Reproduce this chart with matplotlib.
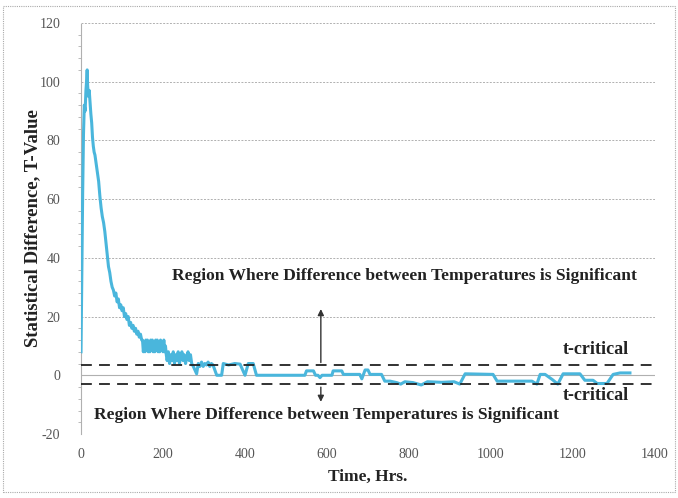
import numpy as np
import matplotlib
matplotlib.use("Agg")
import matplotlib.pyplot as plt
from matplotlib.patches import Rectangle

_LINE = "#4ab6dc"
_GRID = "#b0b0b0"
_TXT = "#222222"
_TICK = "#555555"

plt.rcParams["axes.unicode_minus"] = False

# time (hrs) and t-value
hours = [0, 2, 4, 6, 8, 10, 12, 14, 15, 16, 18, 20, 22, 24, 26, 28, 30, 32, 34, 36,
         38, 40, 43, 46, 49, 52, 55, 58, 61, 64, 67, 70, 73, 76, 79, 82, 85, 88, 91, 94,
         97, 100, 103, 106, 109, 112, 115, 118, 121, 124, 127, 130, 133, 136, 139, 142, 145, 148,
         150, 152, 154, 156, 158, 160, 162, 164, 166, 168, 170, 172, 174, 176, 178, 180, 182, 184,
         186, 188, 190, 192, 194, 196, 198, 200, 202, 204, 206, 208,
         210, 213, 216, 219, 222, 225, 228, 231, 234, 237, 240, 243, 246, 249, 252, 255, 258,
         261, 264, 267, 270, 274,
         282, 286, 290, 294, 298, 302, 306, 310, 314, 318, 322, 331, 343, 347, 360, 375, 388,
         400, 408, 420, 428, 441, 546, 550, 567, 572, 578, 583, 588, 612, 615, 636, 640, 680,
         685, 693, 700, 705, 733, 741, 754, 770, 780, 790, 810, 830, 845, 880, 910, 924, 937,
         1005, 1015, 1100, 1112, 1120, 1132, 1150, 1163, 1176, 1217, 1229, 1249, 1259, 1283,
         1298, 1315, 1339]
t_value = [8, 35, 62, 82, 92, 90, 97, 101, 104, 99, 95, 97, 93, 89, 86, 81, 78, 76, 75, 73,
           71, 69, 66, 61, 57, 54, 52, 49, 45, 41, 37, 35, 32, 30, 29, 27, 28, 25, 26, 23,
           24, 22, 23, 20, 21, 19, 20, 17, 18, 16, 17, 15, 16, 14, 15, 13, 14, 12,
           12, 8, 11, 8, 12, 9, 12, 8, 11, 8, 12, 9, 12, 8, 11, 8, 12, 9,
           12, 8, 11, 8, 12, 9, 11, 8, 12, 8, 10, 7,
           5, 8, 4, 7, 5, 8, 4, 7, 5, 8, 4, 6, 8, 5, 7, 4, 6,
           8, 5, 7, 4, 3,
           0.5, 4, 3, 4.5, 3, 4, 3.5, 4.5, 3, 4, 3.5, 0, 0, 4, 3.5, 4, 3.8,
           0, 4, 4, 0, 0, 0, 1.5, 1.5, 0, 0, -0.8, 0, 0, 1.5, 1.5, 0.3, 0.3,
           -1.2, 1.8, 1.8, 0.3, 0.3, -2, -2, -2.5, -3, -2.2, -2.5, -3.3, -2.2, -2.4, -2.2, -3, 0.5,
           0.3, -2, -2, -3, 0.3, 0.3, -1.5, -3, 0.5, 0.5, -1.7, -1.7, -2.8, -2.8,
           0.3, 0.8, 0.8]

t_crit_upper = 3.4
t_crit_lower = -3.1
y_ticks = [-20, 0, 20, 40, 60, 80, 100, 120]
x_ticks = [0, 200, 400, 600, 800, 1000, 1200, 1400]
region_label = "Region Where Difference between Temperatures is Significant"

fig = plt.figure(figsize=(6.78, 4.98), dpi=100)
ax = fig.add_axes([0.1195, 0.1285, 0.8465, 0.8255])

for y in y_ticks:
    if y != 0:
        ax.axhline(y, color=_GRID, lw=0.7, ls=(0, (2, 1.5)), zorder=0)
ax.axhline(0, color=_GRID, lw=0.8, zorder=0)

ax.plot(hours, t_value, color=_LINE, lw=2.2, zorder=3)
ax.axhline(t_crit_upper, color="#222222", lw=1.3, ls=(0, (6, 4)), zorder=4)
ax.axhline(t_crit_lower, color="#222222", lw=1.3, ls=(0, (6, 4)), zorder=4)

ax.set_xlim(0, 1400)
ax.set_ylim(-20, 120)
ax.set_xticks(x_ticks)
ax.set_yticks(y_ticks)
ax.set_yticks(np.arange(-20, 121, 4), minor=True)

serif = ["Liberation Serif", "DejaVu Serif"]
for lab in ax.get_xticklabels() + ax.get_yticklabels():
    lab.set_family(serif)
    lab.set_fontsize(10)
    lab.set_color(_TICK)
ax.tick_params(axis="x", length=0, pad=10)
ax.tick_params(axis="y", which="major", length=0, pad=15)
ax.tick_params(axis="y", which="minor", length=2, color=_GRID)

for sp in ["top", "right", "bottom"]:
    ax.spines[sp].set_visible(False)
ax.spines["left"].set_color(_GRID)
ax.spines["left"].set_linestyle((0, (1, 1)))
ax.spines["left"].set_linewidth(0.8)

ax.set_xlabel("Time, Hrs.", family=serif, fontweight="bold", fontsize=12.5, color=_TXT)
ax.set_ylabel("Statistical Difference, T-Value", family=serif, fontweight="bold",
              fontsize=13.5, color=_TXT)
ax.xaxis.set_label_coords(0.5, -0.085)
ax.yaxis.set_label_coords(-0.07, 0.5)

ax.text(788, 33.7, region_label, family=serif, fontweight="bold", fontsize=12.6,
        color=_TXT, ha="center", va="center")
ax.text(598, -13.6, region_label, family=serif, fontweight="bold", fontsize=12.6,
        color=_TXT, ha="center", va="center")
ax.text(1256, 8.8, "t-critical", family=serif, fontweight="bold", fontsize=13,
        color=_TXT, ha="center", va="center")
ax.text(1256, -6.8, "t-critical", family=serif, fontweight="bold", fontsize=13,
        color=_TXT, ha="center", va="center")

ax.annotate("", xy=(585, 23.5), xytext=(585, t_crit_upper),
            arrowprops=dict(arrowstyle="-|>", color="#333333", lw=1.0, mutation_scale=9))
ax.annotate("", xy=(585, -10), xytext=(585, t_crit_lower),
            arrowprops=dict(arrowstyle="-|>", color="#333333", lw=1.0, mutation_scale=9))

fig.patches.append(Rectangle((0.005, 0.012), 0.99, 0.975, transform=fig.transFigure,
                             fill=False, ec="#aaaaaa", lw=0.8, ls=(0, (1, 1))))

fig.savefig("out.png", dpi=100)
